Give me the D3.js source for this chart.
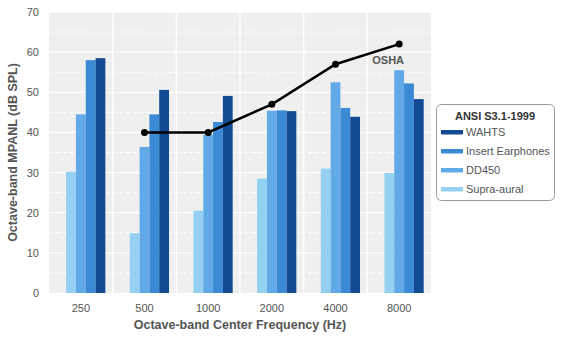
<!DOCTYPE html>
<html><head><meta charset="utf-8">
<script src="https://cdn.jsdelivr.net/npm/d3@7"></script>
<style>body{margin:0;background:#fff;font-family:"Liberation Sans",Arial,sans-serif}</style>
</head><body><svg id="c" width="566" height="340"></svg>
<script>
const categories = ["250","500","1000","2000","4000","8000"];
const seriesNames = ["Supra-aural","DD450","Insert Earphones","WAHTS"];
const supraAural = [30.2, 14.9, 20.5, 28.5, 31.0, 29.9];
const dd450 = [44.5, 36.4, 39.4, 45.4, 52.5, 55.5];
const insertEarphones = [58.0, 44.5, 42.6, 45.5, 46.1, 52.2];
const wahts = [58.5, 50.6, 49.1, 45.3, 43.9, 48.3];
const oshaCats = ["500","1000","2000","4000","8000"];
const oshaValues = [40, 40, 47, 57, 62];
const yTicks = [0,10,20,30,40,50,60,70];
const colors = ["#93d0f2","#62aae7","#3a8ad5","#124a93"];

const svg = d3.select("#c");
const L=49, R=431, T=12, B=293;
const x = d3.scaleBand().domain(categories).range([L,R]).paddingInner(0).paddingOuter(0);
const y = d3.scaleLinear().domain([0,70]).range([B,T]);
const slots = d3.scaleBand().domain([0,1,2,3,4]).range([0, x.bandwidth()*0.77]);
const groupOff = (x.bandwidth() - x.bandwidth()*0.77)/2;

svg.append("rect").attr("x",L).attr("y",T).attr("width",R-L).attr("height",B-T).attr("fill","#efefef");
// minor dashed grid
d3.range(5,70,10).forEach(v=>{
  svg.append("line").attr("x1",L).attr("x2",R).attr("y1",y(v)).attr("y2",y(v))
    .attr("stroke","#fff").attr("stroke-width",1).attr("stroke-dasharray","4,3");
});
yTicks.slice(1).forEach(v=>{
  svg.append("line").attr("x1",L).attr("x2",R).attr("y1",y(v)).attr("y2",y(v))
    .attr("stroke","#fff").attr("stroke-width",1.3);
});
categories.slice(1).forEach(c=>{
  svg.append("line").attr("x1",x(c)).attr("x2",x(c)).attr("y1",T).attr("y2",B)
    .attr("stroke","#fff").attr("stroke-width",1.3);
});

const series = [supraAural, dd450, insertEarphones, wahts];
series.forEach((vals,si)=>{
  svg.append("g").selectAll("rect").data(categories).join("rect")
    .attr("x",(c)=>x(c)+groupOff+slots(si+1))
    .attr("width",slots.bandwidth())
    .attr("y",(c,i)=>y(vals[i]))
    .attr("height",(c,i)=>B-y(vals[i]))
    .attr("fill",colors[si]);
});

// OSHA line
const line = d3.line().x((d,i)=>x(oshaCats[i])+x.bandwidth()/2).y(d=>y(d));
svg.append("path").datum(oshaValues).attr("d",line).attr("fill","none").attr("stroke","#000").attr("stroke-width",2.5);
svg.selectAll("circle.o").data(oshaValues).join("circle")
  .attr("cx",(d,i)=>x(oshaCats[i])+x.bandwidth()/2).attr("cy",d=>y(d)).attr("r",3.5).attr("fill","#000");
svg.append("text").attr("x",x("8000")+x.bandwidth()/2-11).attr("y",y(62)+20)
  .attr("text-anchor","middle").attr("font-size",11).attr("font-weight","bold").attr("fill","#555").text("OSHA");

// axes
const yAxis = d3.axisLeft(y).tickValues(yTicks).tickSize(0).tickPadding(10);
const gy = svg.append("g").attr("transform",`translate(${L},0)`).call(yAxis);
gy.select(".domain").remove();
gy.selectAll("text").attr("font-size",11).attr("fill","#555").attr("font-family","Liberation Sans,Arial,sans-serif");
const xAxis = d3.axisBottom(x).tickSize(0).tickPadding(11);
const gx = svg.append("g").attr("transform",`translate(0,${B})`).call(xAxis);
gx.select(".domain").remove();
gx.selectAll("text").attr("font-size",11).attr("fill","#555").attr("font-family","Liberation Sans,Arial,sans-serif");

svg.append("text").attr("x",(L+R)/2).attr("y",329).attr("text-anchor","middle")
  .attr("font-size",12.5).attr("font-weight","bold").attr("fill","#555").text("Octave-band Center Frequency (Hz)");
svg.append("text").attr("transform",`translate(17,${(T+B)/2}) rotate(-90)`).attr("text-anchor","middle")
  .attr("font-size",12.5).attr("font-weight","bold").attr("fill","#555").text("Octave-band MPANL (dB SPL)");

// legend
const lg = svg.append("g");
lg.append("rect").attr("x",436.5).attr("y",104.5).attr("width",118).attr("height",96).attr("rx",5)
  .attr("fill","#fff").attr("stroke","#999");
lg.append("text").attr("x",495).attr("y",120).attr("text-anchor","middle").attr("font-size",11)
  .attr("font-weight","bold").attr("fill","#333").text("ANSI S3.1-1999");
const order = [3,2,1,0];
order.forEach((si,k)=>{
  const yy = 132 + k*19;
  lg.append("rect").attr("x",441).attr("y",yy-2).attr("width",22).attr("height",4.5).attr("fill",colors[si]);
  lg.append("text").attr("x",466).attr("y",yy+4).attr("font-size",11).attr("fill","#555").text(seriesNames[si]);
});
</script></body></html>
